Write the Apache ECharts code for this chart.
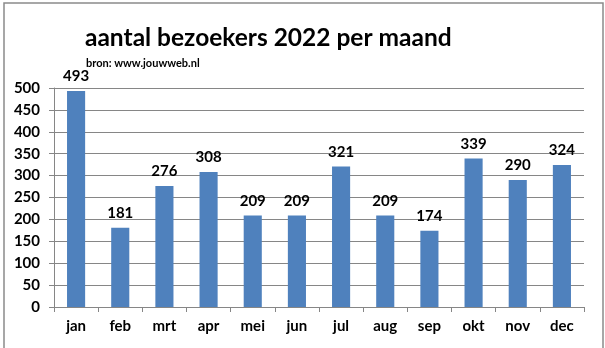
<!DOCTYPE html>
<html><head><meta charset="utf-8">
<script src="https://cdn.jsdelivr.net/npm/echarts@6/dist/echarts.min.js"></script>
<style>html,body{margin:0;padding:0;background:#fff}#c{width:605px;height:348px}</style>
</head><body><div id="c"></div>
<script>
const categories = ['jan','feb','mrt','apr','mei','jun','jul','aug','sep','okt','nov','dec'];
const visitors = [493,181,276,308,209,209,321,209,174,339,290,324];
const titleText = 'aantal bezoekers 2022 per maand';
const subText = 'bron: www.jouwweb.nl';
const FONT = 'Lato, "Open Sans", sans-serif';
const chart = echarts.init(document.getElementById('c'));
chart.setOption({
  animation:false,
  backgroundColor:'#fff',
  graphic:[{type:'rect',shape:{x:4,y:3,width:599,height:360},style:{fill:'none',stroke:'#8a8a8a',lineWidth:1.5},z:-1}],
  title:[{text:titleText,left:80,top:21,textStyle:{fontFamily:FONT,fontWeight:'bold',fontSize:24.5,color:'#000'}},
         {text:subText,left:81,top:53,textStyle:{fontFamily:FONT,fontWeight:'bold',fontSize:11,color:'#000'}}],
  grid:{left:54,right:21,top:88,bottom:41,containLabel:false},
  xAxis:{type:'category',data:categories,
    axisLine:{lineStyle:{color:'#868686',width:1}},
    axisTick:{show:true,alignWithLabel:false,length:5,lineStyle:{color:'#868686'}},
    axisLabel:{margin:12,fontFamily:FONT,fontWeight:'bold',fontSize:15,color:'#000'}},
  yAxis:{type:'value',min:0,max:500,interval:50,
    axisLine:{show:true,lineStyle:{color:'#868686'}},
    axisTick:{show:true,inside:false,length:5,lineStyle:{color:'#868686'}},
    splitLine:{lineStyle:{color:'#868686',width:1}},
    axisLabel:{margin:14,fontFamily:FONT,fontWeight:'bold',fontSize:15,color:'#000'}},
  series:[{type:'bar',data:visitors,barCategoryGap:'59%',
    itemStyle:{color:'#4F81BD'},
    label:{show:true,position:'top',distance:7,fontFamily:FONT,fontWeight:'bold',fontSize:15,color:'#000'}}]
});
</script></body></html>
